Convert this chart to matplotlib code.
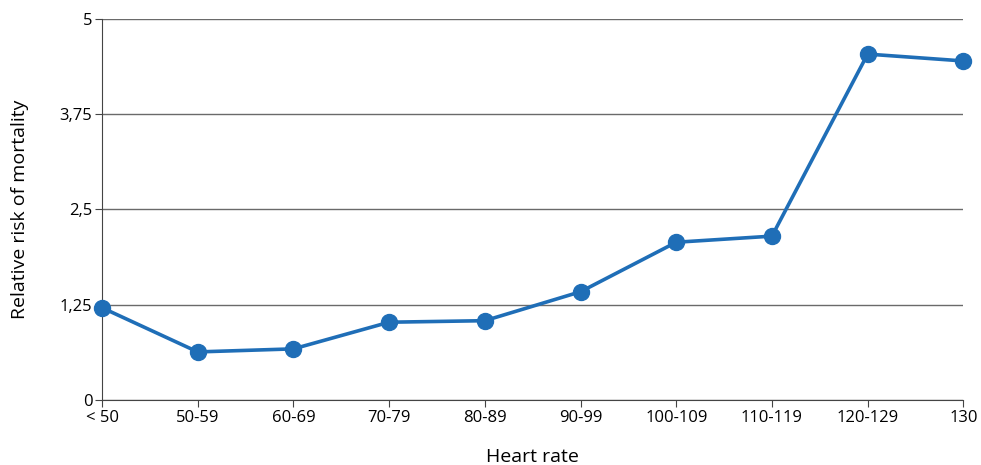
import matplotlib
matplotlib.use("Agg")
import matplotlib.pyplot as plt

# data
heart_rate = ['< 50', '50-59', '60-69', '70-79', '80-89', '90-99',
              '100-109', '110-119', '120-129', '130']
relative_risk = [1.21, 0.63, 0.67, 1.02, 1.04, 1.42, 2.07, 2.15, 4.54, 4.45]
y_ticks = [0, 1.25, 2.5, 3.75, 5]
y_tick_labels = ['0', '1,25', '2,5', '3,75', '5']

plt.rcParams['font.family'] = ['Open Sans', 'DejaVu Sans']

fig = plt.figure(figsize=(9.81, 4.65), dpi=100)
ax = fig.add_axes([0.104, 0.14, 0.878, 0.819])

x = list(range(len(heart_rate)))
ax.plot(x, relative_risk, color='#1f6eb7', lw=2.6, marker='o',
        markersize=11.5, zorder=3, clip_on=False)

ax.set_xlim(0, len(heart_rate) - 1)
ax.set_ylim(0, 5)
ax.set_xticks(x)
ax.set_xticklabels(heart_rate, fontsize=12)
ax.set_yticks(y_ticks)
ax.set_yticklabels(y_tick_labels, fontsize=12)
ax.yaxis.grid(True, color='#6a6a6a', lw=1)
ax.set_axisbelow(True)

for s in ['top', 'right']:
    ax.spines[s].set_visible(False)
for s in ['left', 'bottom']:
    ax.spines[s].set_color('#444444')
ax.tick_params(length=5, color='#444444', pad=2)

ax.set_xlabel('Heart rate', fontsize=14, labelpad=16)
ax.set_ylabel('Relative risk of mortality', fontsize=14, labelpad=22)

plt.savefig('out.png', dpi=100)
plt.close()
